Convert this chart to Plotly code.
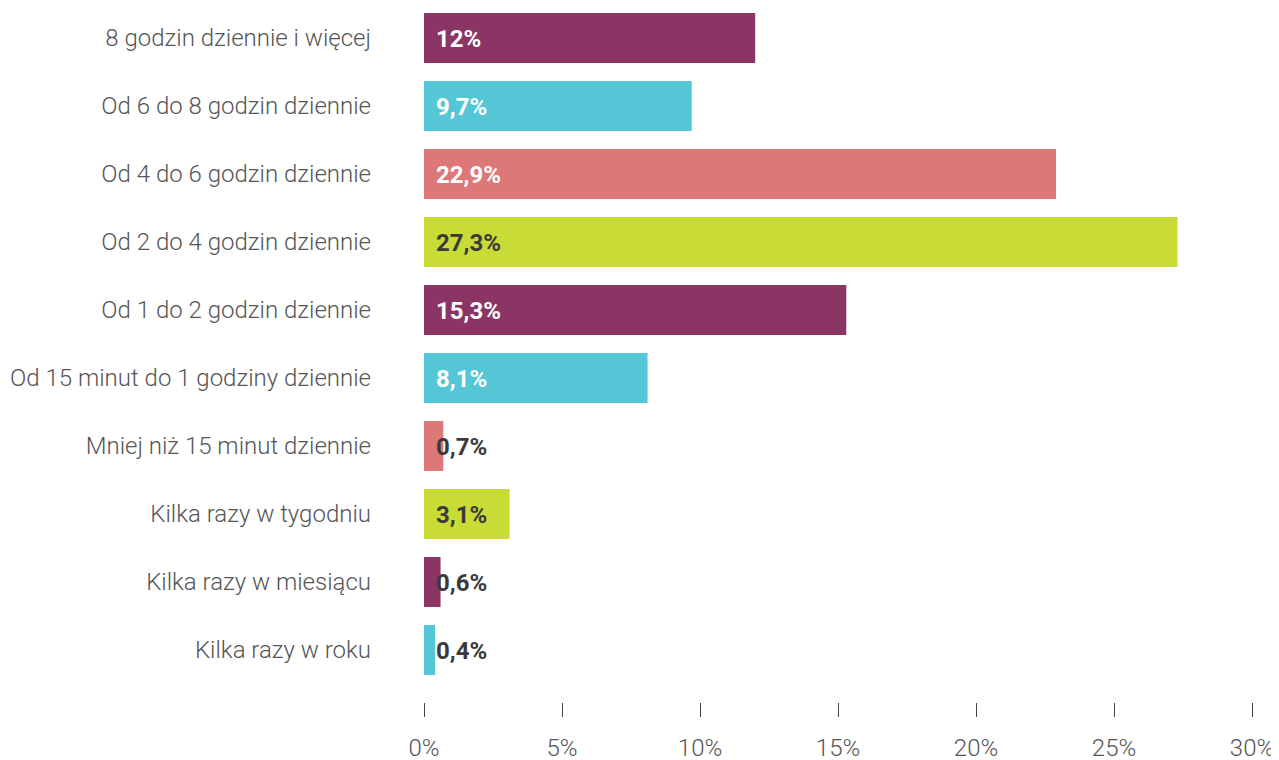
import plotly.graph_objects as go

categories = [
    "8 godzin dziennie i więcej",
    "Od 6 do 8 godzin dziennie",
    "Od 4 do 6 godzin dziennie",
    "Od 2 do 4 godzin dziennie",
    "Od 1 do 2 godzin dziennie",
    "Od 15 minut do 1 godziny dziennie",
    "Mniej niż 15 minut dziennie",
    "Kilka razy w tygodniu",
    "Kilka razy w miesiącu",
    "Kilka razy w roku",
]
values = [12, 9.7, 22.9, 27.3, 15.3, 8.1, 0.7, 3.1, 0.6, 0.4]
value_labels = ["12%", "9,7%", "22,9%", "27,3%", "15,3%", "8,1%", "0,7%", "3,1%", "0,6%", "0,4%"]
bar_colors = ["#8B3564", "#54C6D6", "#DC7878", "#C8DB36"] * 3
label_colors = ["#FFFFFF", "#FFFFFF", "#FFFFFF", "#3A3A3A", "#FFFFFF", "#FFFFFF",
                "#3A3A3A", "#3A3A3A", "#3A3A3A", "#3A3A3A"]
tick_vals = [0, 5, 10, 15, 20, 25, 30]
tick_text = ["0%", "5%", "10%", "15%", "20%", "25%", "30%"]

fig = go.Figure()
fig.add_trace(go.Bar(
    x=values, y=categories, orientation="h",
    marker=dict(color=bar_colors[:len(values)], line=dict(width=0)),
    hoverinfo="skip",
))

for cat, lab, col in zip(categories, value_labels, label_colors):
    fig.add_annotation(
        x=0, y=cat, text="<b>" + lab + "</b>", showarrow=False,
        xanchor="left", xshift=10, yshift=-1,
        font=dict(family="Roboto", size=24, color=col, weight=900),
    )

fig.update_layout(
    width=1271, height=752,
    margin=dict(l=416, r=27, t=0, b=58, autoexpand=False),
    plot_bgcolor="white", paper_bgcolor="white",
    bargap=0.265,
    showlegend=False,
    xaxis=dict(
        range=[0, 30], tickvals=tick_vals, ticktext=tick_text,
        showgrid=False, zeroline=False, showline=False, automargin=False,
        ticks="outside", ticklen=14, tickwidth=1, tickcolor="#444444",
        ticklabelstandoff=10,
        tickfont=dict(family="Roboto", size=24, color="#555555", weight=300),
    ),
    yaxis=dict(
        categoryorder="array", categoryarray=categories,
        range=[9.765, -0.441], automargin=False,
        showgrid=False, zeroline=False, showline=False,
        ticks="", ticklabelstandoff=52,
        tickfont=dict(family="Roboto", size=24, color="#555555", weight=300),
    ),
)

fig.write_html("out.html")
